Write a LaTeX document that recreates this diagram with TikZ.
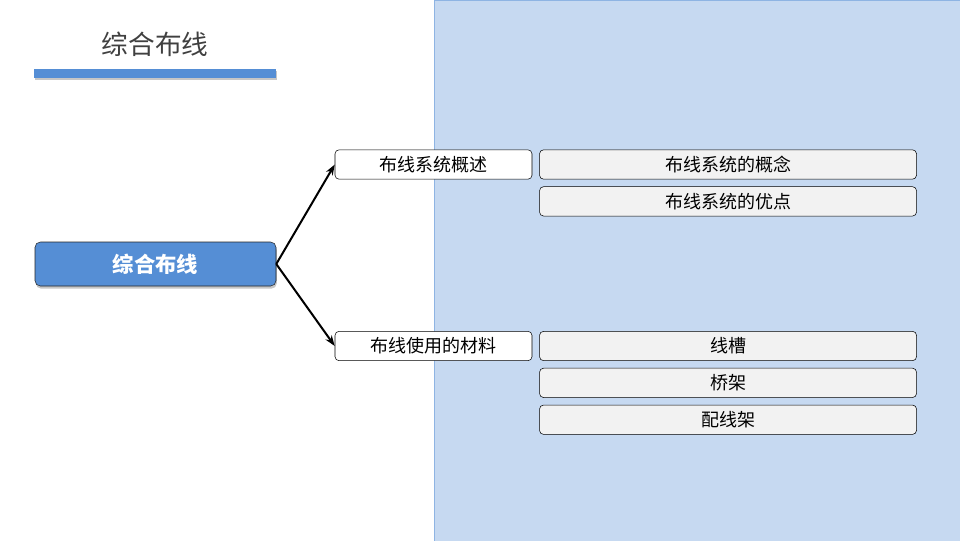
\documentclass[tikz,border=0pt]{standalone}
\usepackage{fontspec}
\setmainfont{Noto Sans CJK SC}
\usepackage{tikz}
\usetikzlibrary{positioning,shapes,arrows.meta,shadows}
\definecolor{panel}{HTML}{C6D9F1}
\definecolor{panelline}{HTML}{8EB4E3}
\definecolor{accent}{HTML}{558ED5}
\definecolor{soft}{HTML}{F2F2F2}
\definecolor{titlegray}{HTML}{404040}

\begin{document}
\begin{tikzpicture}[
    x=0.75pt, y=-0.75pt,
    node distance=5.25pt and 5.25pt,
    topic/.style={rectangle, rounded corners=3pt, draw=black, fill=white,
                  minimum width=147.75pt, minimum height=22pt, inner sep=0pt,
                  font=\fontsize{13.5}{15}\selectfont},
    item/.style={topic, fill=soft, minimum width=282.75pt},
    arrow/.style={-{Stealth[length=2.8mm, width=2mm]}, line width=1.5pt, black}
]
\useasboundingbox (0,0) rectangle (960,540);
% Background panel
\filldraw[fill=panel, draw=panelline, line width=0.75pt] (434,0) rectangle (961,541);

% Title and bar
\node[text=titlegray, font=\fontsize{20}{22}\selectfont] (title) at (155,44) {综合布线};
\fill[accent, drop shadow={shadow xshift=0.6pt, shadow yshift=-1.5pt, opacity=0.45}]
    (34,69) rectangle (276,78);

% Main node
\node[rectangle, rounded corners=4pt, draw=black!85, fill=accent, text=white,
      minimum width=180.75pt, minimum height=33pt, inner sep=0pt,
      font=\fontsize{16}{18}\selectfont\bfseries,
      drop shadow={shadow xshift=0.6pt, shadow yshift=-2pt, opacity=0.45}]
      (main) at (155.5,264) {综合布线};

% Topics
\node[topic] (overview) at (433.5,164.5) {布线系统概述};
\node[topic] (materials) at (433.5,346) {布线使用的材料};

% Items
\node[item, right=of overview] (concept) {布线系统的概念};
\node[item, below=of concept] (advantage) {布线系统的优点};
\node[item, right=of materials] (trough) {线槽};
\node[item, below=of trough] (tray) {桥架};
\node[item, below=of tray] (rack) {配线架};

% Arrows
\draw[arrow] (main.east) -- (overview.west);
\draw[arrow] (main.east) -- (materials.west);

\end{tikzpicture}
\end{document}
